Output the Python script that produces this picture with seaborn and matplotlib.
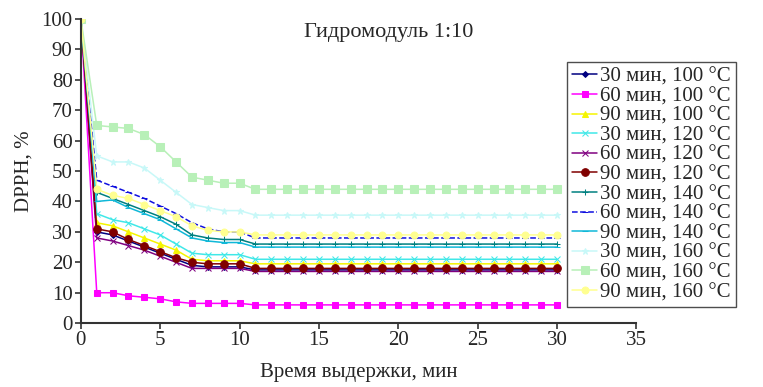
import numpy as np
import pandas as pd
import matplotlib
matplotlib.use('Agg')
import matplotlib.pyplot as plt
import seaborn as sns

# время выдержки, мин
t = list(range(0, 31))

labels = ['30 мин, 100 °C', '60 мин, 100 °C', '90 мин, 100 °C',
          '30 мин, 120 °C', '60 мин, 120 °C', '90 мин, 120 °C',
          '30 мин, 140 °C', '60 мин, 140 °C', '90 мин, 140 °C',
          '30 мин, 160 °C', '60 мин, 160 °C', '90 мин, 160 °C']

s30_100 = [100, 30, 29, 27, 25, 23, 21, 19, 18.5, 18.5, 18.5] + [17.5] * 20
s60_100 = [100, 10, 10, 9, 8.5, 8, 7, 6.5, 6.5, 6.5, 6.5] + [6] * 20
s90_100 = [100, 33, 32, 30, 28, 26, 24, 21, 20.5, 20.5, 20.5] + [19.5] * 20
s30_120 = [100, 36, 34, 33, 31, 29, 26, 23, 22.5, 22.5, 22.5] + [21] * 20
s60_120 = [100, 28, 27, 25.5, 24, 22, 20, 18, 18, 18, 18] + [17] * 20
s90_120 = [100, 31, 30, 27.5, 25.5, 23.5, 21.5, 20, 19.5, 19.5, 19.5] + [18] * 20
s30_140 = [100, 43, 41, 39, 37, 35, 32.5, 29, 28, 27.5, 27.5] + [26] * 20
s60_140 = [100, 47, 45, 43, 41, 38.5, 36, 33, 31, 30, 30] + [28] * 20
s90_140 = [100, 40, 40.5, 38, 36, 34, 31, 28, 27, 26.5, 26.5] + [25] * 20
s30_160 = [100, 55, 53, 53, 51, 47, 43, 39, 38, 37, 37] + [35.5] * 20
s60_160 = [100, 65, 64.5, 64, 62, 58, 53, 48, 47, 46, 46] + [44] * 20
s90_160 = [100, 44, 42, 41, 39, 37, 35, 32, 30.5, 30, 30] + [29] * 20

series = [s30_100, s60_100, s90_100, s30_120, s60_120, s90_120,
          s30_140, s60_140, s90_140, s30_160, s60_160, s90_160]

colors = ['#000080', '#ff00ff', '#f5f500', '#40e8e8', '#800080', '#800000',
          '#008080', '#1010e0', '#10b8d8', '#c8f8f8', '#b8f0b8', '#ffff90']
markers = ['D', 's', '^', 'x', 'x', 'o', '+', '_', '_', '*', 's', 'o']
msizes = [3, 5, 5, 4, 4, 5.5, 5, 5, 5, 5, 5.5, 5]
dashes = ['-', '-', '-', '-', '-', '-', '-', '--', '-', '-', '-', '-']

sns.set_style('ticks')
plt.rcParams['font.family'] = ['Liberation Serif', 'DejaVu Serif']

fig = plt.figure(figsize=(7.63, 3.87), dpi=100)
ax = fig.add_axes([0.106, 0.165, 0.728, 0.786])

for lab, vals, c, m, ms, ls in zip(labels, series, colors, markers, msizes, dashes):
    sns.lineplot(x=t, y=vals, ax=ax, color=c, marker=m, markersize=ms,
                 markeredgecolor=c, linestyle=ls, linewidth=1.1, label=lab)

ax.set_xlim(0, 35)
ax.set_ylim(0, 100)
ax.set_xticks(range(0, 36, 5))
ax.set_yticks(range(0, 101, 10))
ax.tick_params(labelsize=15, length=4, width=1.2, color='#333333', pad=2)
for sp in ['left', 'bottom']:
    ax.spines[sp].set_linewidth(1.5)
    ax.spines[sp].set_color('#333333')
sns.despine(ax=ax)
ax.xaxis.labelpad = 9
ax.yaxis.labelpad = 6

ax.set_xlabel('Время выдержки, мин', fontsize=15)
ax.set_ylabel('DPPH, %', fontsize=15)
ax.text(0.554, 0.955, 'Гидромодуль 1:10', transform=ax.transAxes, fontsize=16,
        ha='center', va='center')

leg = ax.legend(loc='upper left', bbox_to_anchor=(0.743, 0.84),
                bbox_transform=fig.transFigure, fontsize=15, frameon=True,
                fancybox=False, edgecolor='#222222', labelspacing=0.0,
                handlelength=1.2, handletextpad=0.15, borderpad=0.25,
                borderaxespad=0)
leg.get_frame().set_linewidth(1.0)

fig.savefig('out.png', dpi=100)
